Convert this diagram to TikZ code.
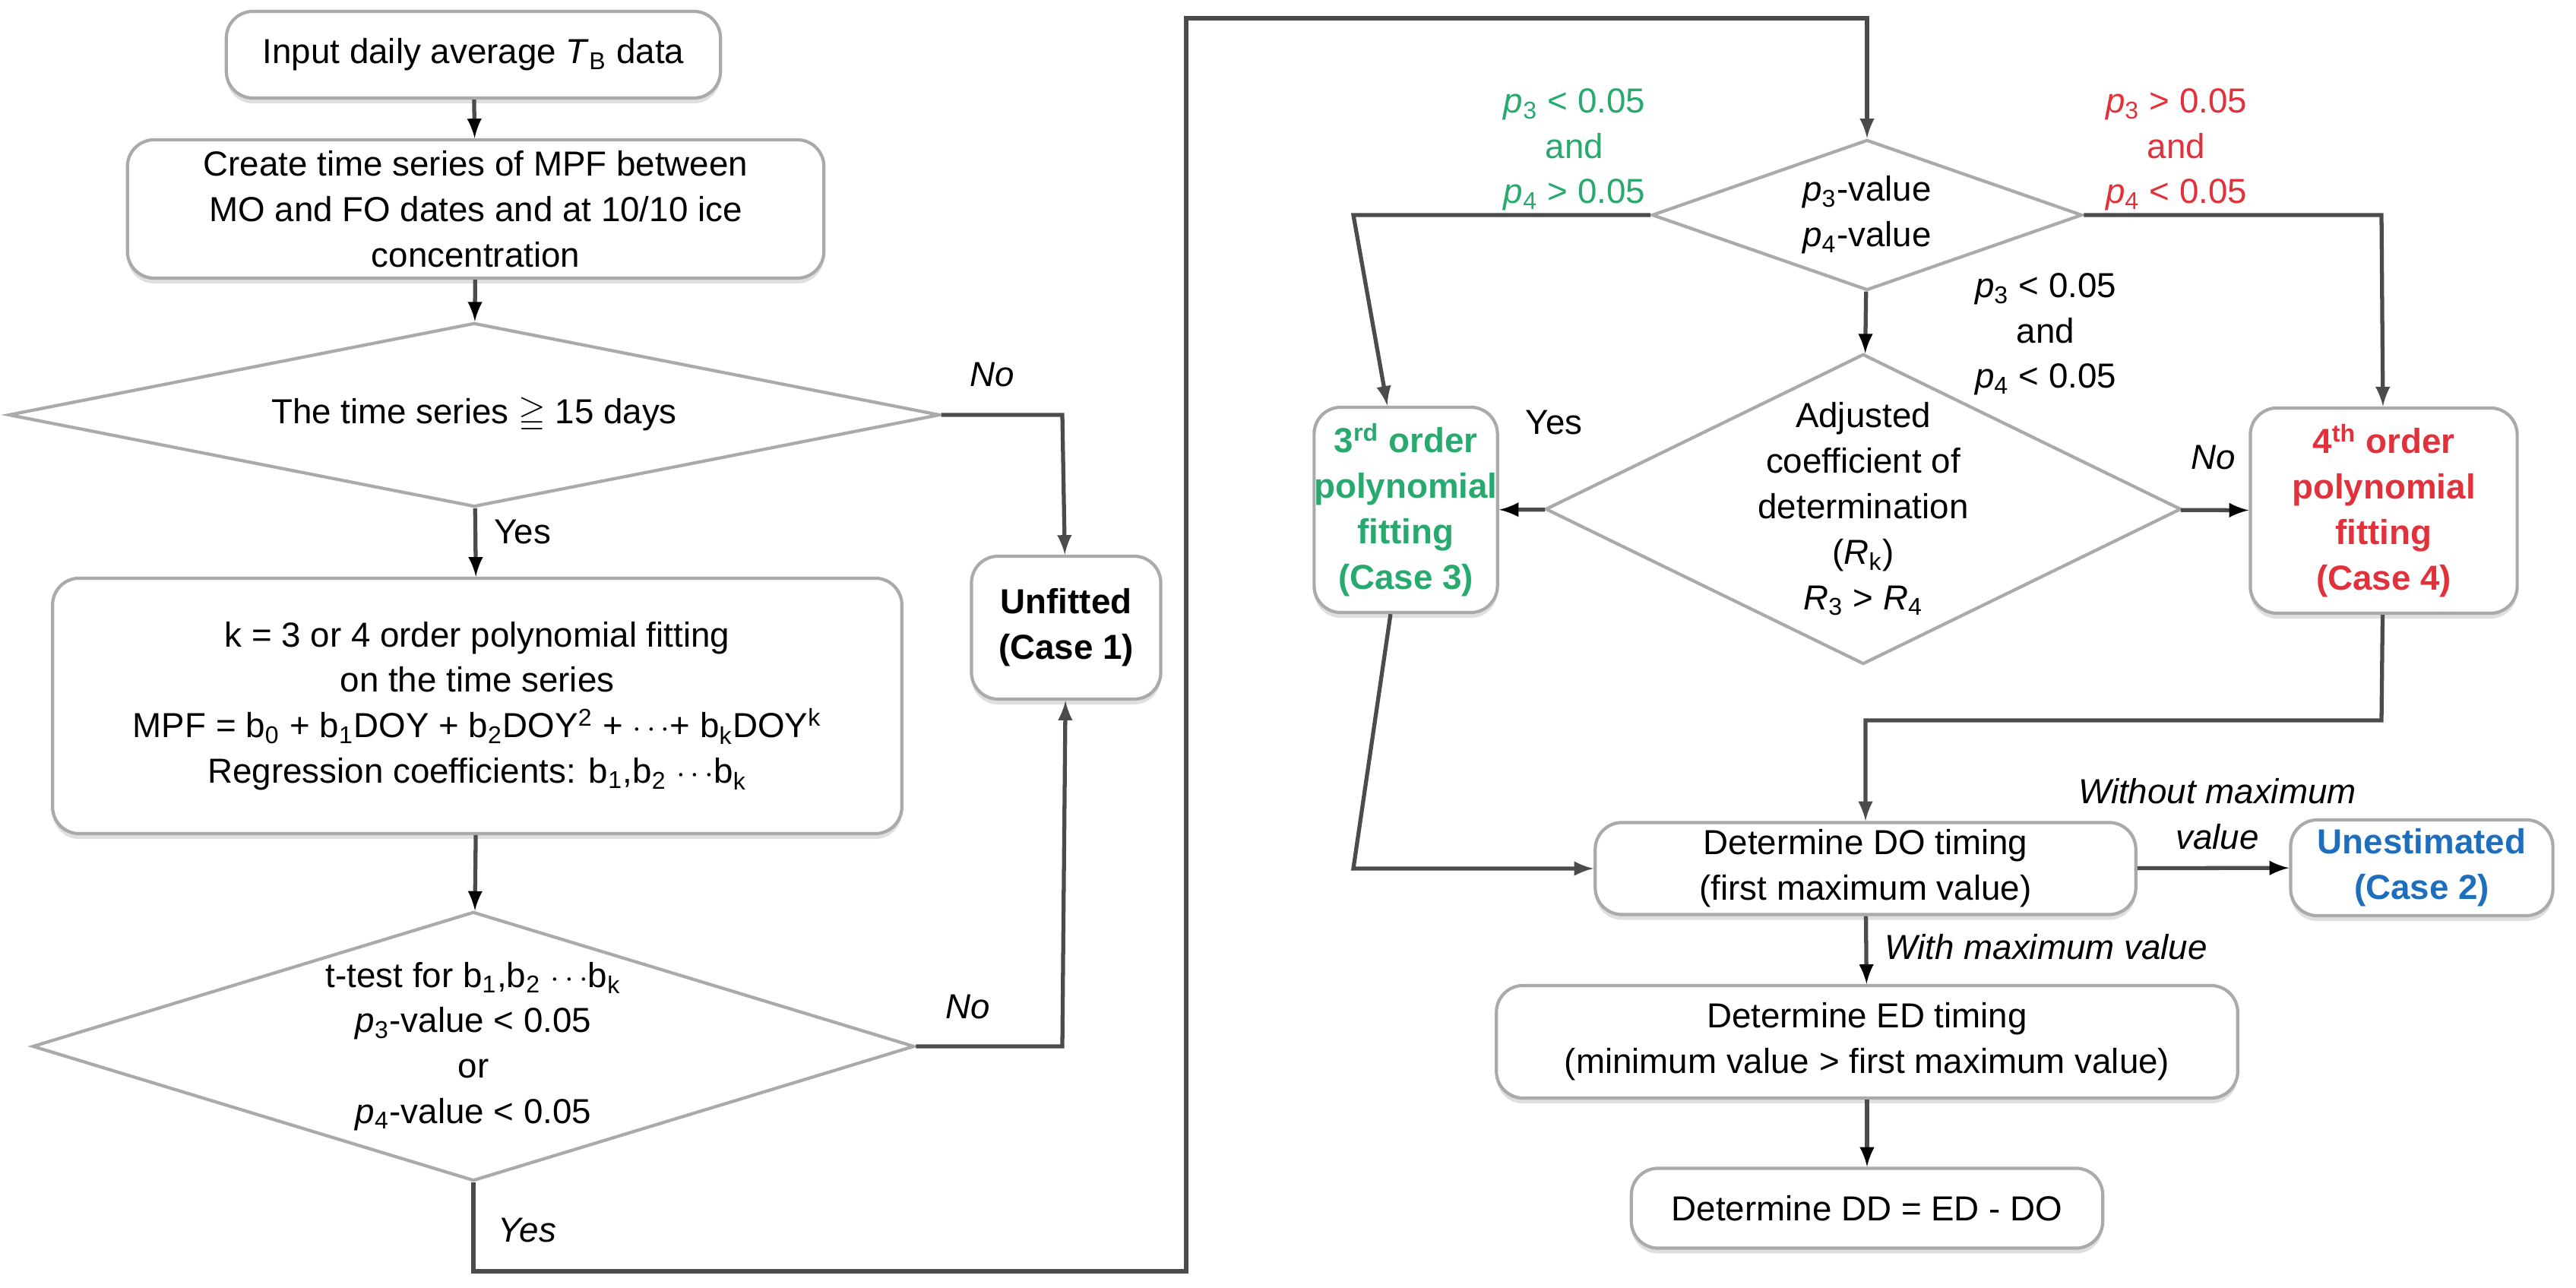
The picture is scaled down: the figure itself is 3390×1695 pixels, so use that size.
\documentclass[tikz,border=0pt]{standalone}
\usepackage{fontspec}
\usepackage{amssymb}
\setmainfont{Liberation Sans}
\usetikzlibrary{arrows,shapes.geometric,shadows}
\definecolor{linegray}{RGB}{75,75,75}
\definecolor{boxgray}{RGB}{170,170,170}
\definecolor{fitgreen}{RGB}{40,170,110}
\definecolor{fitred}{RGB}{225,50,60}
\definecolor{estblue}{RGB}{30,110,190}
\newcommand{\pv}[1]{\textit{p}\textsubscript{#1}}

\begin{document}
\begin{tikzpicture}[x=0.01cm,y=-0.01cm,
  every node/.style={font=\fontsize{13}{17}\selectfont},
  step box/.style={rectangle,rounded corners=10pt,draw=boxgray,line width=1.2pt,fill=white,
    drop shadow={opacity=0.25,shadow xshift=0pt,shadow yshift=-2pt},align=center,inner sep=0pt},
  decision/.style={diamond,draw=boxgray,line width=1.2pt,inner sep=0pt},
  flow/.style={draw=linegray,line width=1.5pt,-latex},
  tag/.style={font=\fontsize{13}{17}\selectfont\itshape}]
  \useasboundingbox (0,0) rectangle (3390,1695);

  % left column
  \node[step box,minimum width=6.5cm,minimum height=1.14cm] (input) at (623,72) {Input daily average \textit{T}\textsubscript{B} data};
  \node[step box,minimum width=9.16cm,minimum height=1.82cm] (series) at (626,275) {Create time series of MPF between\\MO and FO dates and at 10/10 ice\\concentration};
  \node[decision,minimum width=12.25cm,minimum height=2.42cm] (len) at (624,546) {};
  \node at (len.center) {The time series $\geqq$ 15 days};
  \node[step box,minimum width=11.17cm,minimum height=3.36cm] (fit) at (628,929) {k = 3 or 4 order polynomial fitting\\on the time series\\MPF = b\textsubscript{0} + b\textsubscript{1}DOY + b\textsubscript{2}DOY\textsuperscript{2} + $\cdots$+ b\textsubscript{k}DOY\textsuperscript{k}\\Regression coefficients: b\textsubscript{1},b\textsubscript{2} $\cdots$b\textsubscript{k}};
  \node[step box,minimum width=2.49cm,minimum height=1.88cm,font=\fontsize{13}{17}\selectfont\bfseries] (unfit) at (1403,826) {Unfitted\\(Case 1)};
  \node[decision,minimum width=11.6cm,minimum height=3.54cm] (ttest) at (623,1377) {};
  \node[align=center] at (ttest.center) {t-test for b\textsubscript{1},b\textsubscript{2} $\cdots$b\textsubscript{k}\\\pv{3}-value < 0.05\\or\\\pv{4}-value < 0.05};

  % right column
  \node[decision,minimum width=5.66cm,minimum height=1.98cm] (pval) at (2457,283) {};
  \node[align=center] at (pval.center) {\pv{3}-value\\\pv{4}-value};
  \node[decision,minimum width=8.36cm,minimum height=4.08cm] (adj) at (2452,670) {};
  \node[align=center] at (adj.center) {Adjusted\\coefficient of\\determination\\(\textit{R}\textsubscript{k})\\\textit{R}\textsubscript{3} > \textit{R}\textsubscript{4}};
  \node[step box,minimum width=2.28cm,minimum height=2.7cm,text=fitgreen,font=\fontsize{13}{17}\selectfont\bfseries] (case3) at (1850,671) {3\textsuperscript{rd} order\\polynomial\\fitting\\(Case 3)};
  \node[step box,minimum width=3.51cm,minimum height=2.7cm,text=fitred,font=\fontsize{13}{17}\selectfont\bfseries] (case4) at (3137,672) {4\textsuperscript{th} order\\polynomial\\fitting\\(Case 4)};
  \node[step box,minimum width=7.11cm,minimum height=1.21cm] (do) at (2455,1143) {Determine DO timing\\(first maximum value)};
  \node[step box,minimum width=3.45cm,minimum height=1.26cm,text=estblue,font=\fontsize{13}{17}\selectfont\bfseries] (case2) at (3187,1142) {Unestimated\\(Case 2)};
  \node[step box,minimum width=9.75cm,minimum height=1.48cm] (ed) at (2457,1371) {Determine ED timing\\(minimum value > first maximum value)};
  \node[step box,minimum width=6.2cm,minimum height=1.05cm] (dd) at (2457,1590) {Determine DD = ED - DO};

  \coordinate (c1) at (1398,546);
  \coordinate (c2) at (1398,1377);
  \coordinate (c3) at (623,1673);
  \coordinate (c4) at (1561,1673);
  \coordinate (c5) at (1561,24);
  \coordinate (c6) at (2457,24);
  \coordinate (c7) at (1781,283);
  \coordinate (c8) at (3134,283);
  \coordinate (c9) at (1781,1143);
  \coordinate (c10) at (3134,948);
  \coordinate (c11) at (2455,948);

  \path[flow]
    (input) edge (series)
    (series) edge (len)
    (len) edge node[pos=0.35,right=3pt] {Yes} (fit)
    (fit) edge (ttest)
    (adj) edge (case3)
    (adj) edge (case4)
    (pval) edge (adj)
    (do) edge node[pos=0.45,right=3pt,tag] {With maximum value} (ed)
    (do) edge (case2)
    (ed) edge (dd);
  \draw[flow] (len.east) -- (c1) -- (unfit);
  \draw[flow] (ttest.east) -- (c2) -- (unfit);
  \draw[flow] (ttest.south) -- (c3) -- (c4) -- (c5) -- (c6) -- (pval);
  \draw[flow] (pval.west) -- (c7) -- (case3);
  \draw[flow] (pval.east) -- (c8) -- (case4);
  \draw[flow] (case3) -- (c9) -- (do);
  \draw[flow] (case4) -- (c10) -- (c11) -- (do);

  % branch labels
  \node[tag] at (1306,493) {No};
  \node[tag] at (1274,1325) {No};
  \node[tag] at (694,1619) {Yes};
  \node at (2045,556) {Yes};
  \node[tag] at (2913,602) {No};
  \node[align=center,text=fitgreen] at (2072,197) {\pv{3} < 0.05\\and\\\pv{4} > 0.05};
  \node[align=center,text=fitred] at (2864,197) {\pv{3} > 0.05\\and\\\pv{4} < 0.05};
  \node[align=center] at (2692,440) {\pv{3} < 0.05\\and\\\pv{4} < 0.05};
  \node[align=center,tag] at (2918,1071) {Without maximum\\value};
\end{tikzpicture}
\end{document}
